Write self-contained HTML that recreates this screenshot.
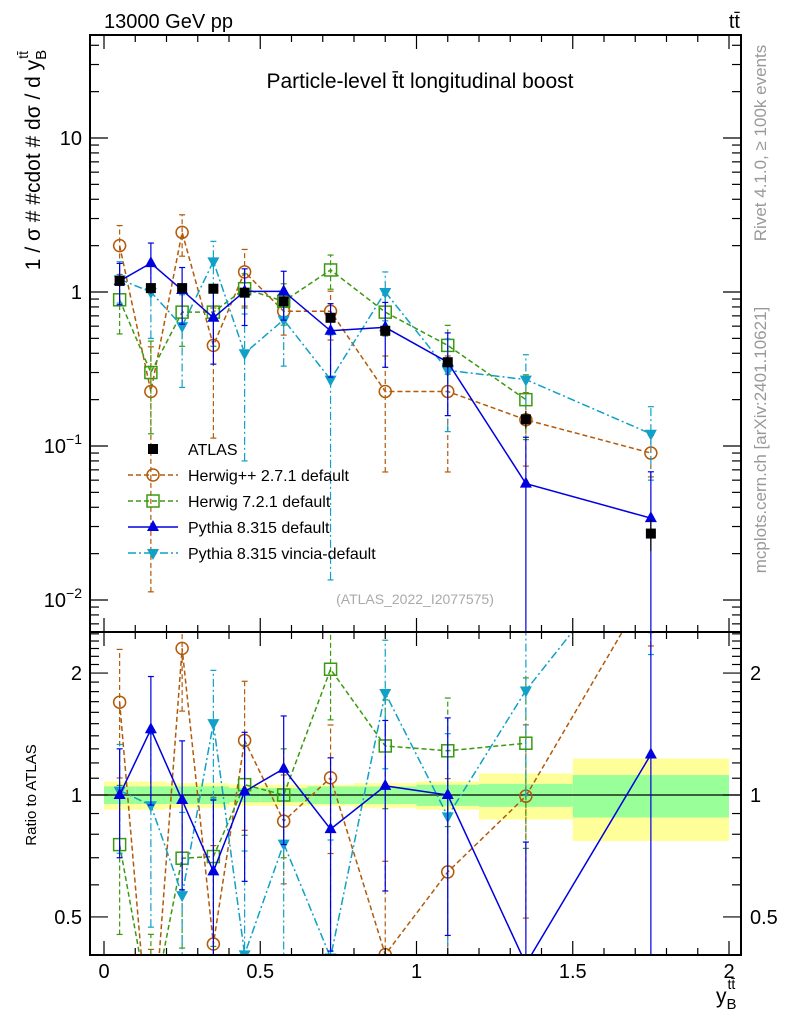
<!DOCTYPE html>
<html><head><meta charset="utf-8"><style>
html,body{margin:0;background:#fff;overflow:hidden;width:786px;height:1024px;}
svg{display:block;font-family:"Liberation Sans",sans-serif;}
</style></head><body>
<svg id="plot" width="786" height="1024" viewBox="0 0 786 1024" xmlns="http://www.w3.org/2000/svg">
<text x="104" y="28" font-size="20">13000 GeV pp</text>
<text x="740" y="28" font-size="20" text-anchor="end">tt̄</text>
<text x="420" y="88" font-size="21" text-anchor="middle">Particle-level t̄t longitudinal boost</text>
<text x="415" y="604" font-size="14" fill="#aaa" text-anchor="middle">(ATLAS_2022_I2077575)</text>
<text transform="translate(766,143) rotate(-90)" font-size="17" fill="#999" text-anchor="middle">Rivet 4.1.0, ≥ 100k events</text>
<text transform="translate(766,440) rotate(-90)" font-size="17" fill="#999" text-anchor="middle">mcplots.cern.ch [arXiv:2401.10621]</text>
<text transform="translate(40,160) rotate(-90)" font-size="21" text-anchor="middle">1 / σ # #cdot # dσ / d y<tspan font-size="15" dy="6">B</tspan><tspan font-size="14" dy="-18" dx="-9">tt̄</tspan></text>
<text transform="translate(36,795) rotate(-90)" font-size="15" text-anchor="middle">Ratio to ATLAS</text>
<text x="716" y="1003" font-size="21">y<tspan font-size="15" dy="6">B</tspan><tspan font-size="14" dy="-20" dx="-9">tt̄</tspan></text>
<g id="g"></g>
</svg>
<script>
const edges=[0,0.1,0.2,0.3,0.4,0.5,0.65,0.8,1.0,1.2,1.5,2.0];
const centers=[0.05,0.15,0.25,0.35,0.45,0.575,0.725,0.9,1.1,1.35,1.75];
const atlas=[1.18,1.06,1.06,1.05,0.99,0.87,0.68,0.56,0.35,0.149,0.027];
const atlasStat=[0.05,0.05,0.05,0.05,0.04,0.04,0.05,0.05,0.06,0.065,0.12];
const atlasTot=[0.08,0.08,0.07,0.07,0.06,0.06,0.06,0.07,0.08,0.13,0.23];
const hpp=[2.0,0.226,2.44,0.45,1.35,0.75,0.75,0.226,0.226,0.148,0.09];
const hppErr=[0.35,0.95,0.3,0.75,0.4,0.3,0.35,0.7,0.7,0.5,0.3];
const h7=[0.89,0.30,0.74,0.74,1.05,0.87,1.39,0.74,0.45,0.20];
const h7Err=[0.4,0.6,0.4,0.4,0.25,0.3,0.25,0.3,0.35,0.45];
const py=[1.18,1.54,1.03,0.68,1.01,1.01,0.56,0.59,0.35,0.057,0.034];
const pyErr=[0.3,0.35,0.4,0.5,0.4,0.35,0.5,0.45,0.55,1.0,1.0];
const vin=[1.21,1.0,0.60,1.58,0.40,0.66,0.27,1.0,0.31,0.27,0.12];
const vinErr=[0.3,0.5,0.6,0.35,0.8,0.5,0.95,0.35,0.6,0.45,0.5];
const NS="http://www.w3.org/2000/svg";
const g=document.getElementById('g');
const X0=90,X1=741,MT=35,MB=632,RB=955;
const xs=v=>104+v*312.5;
const ym=v=>292-154*Math.log10(v);
const yr=v=>795-405*Math.log10(v);
function el(t,a,p){const e=document.createElementNS(NS,t);for(const k in a)e.setAttribute(k,a[k]);(p||g).appendChild(e);return e;}
const defs=el('defs',{});
const c1=el('clipPath',{id:'cm'},defs);el('rect',{x:X0,y:MT,width:X1-X0,height:MB-MT},c1);
const c2=el('clipPath',{id:'cr'},defs);el('rect',{x:X0,y:MB,width:X1-X0,height:RB-MB},c2);
const gm=el('g',{'clip-path':'url(#cm)'});


const gr=el('g',{'clip-path':'url(#cr)'});


for(let i=0;i<centers.length;i++){
 const a=xs(edges[i]),b=xs(edges[i+1]);
 const yb=el('rect',{x:a,y:yr(1+atlasTot[i]),width:b-a,height:yr(1-atlasTot[i])-yr(1+atlasTot[i]),fill:'#ffff99'},gr);
 
 
 const gb=el('rect',{x:a,y:yr(1+atlasStat[i]),width:b-a,height:yr(1-atlasStat[i])-yr(1+atlasStat[i]),fill:'#99ff99'},gr);
 
 
}
el('line',{x1:X0,x2:X1,y1:yr(1),y2:yr(1),stroke:'#000','stroke-width':1.2},gr);
function marker(p,type,x,y,col,name){
 let m;
 if(type==='sq') m=el('rect',{x:x-5,y:y-5,width:10,height:10,fill:col},p);
 else if(type==='osq') m=el('rect',{x:x-6,y:y-6,width:12,height:12,fill:'none',stroke:col,'stroke-width':1.5},p);
 else if(type==='oc') m=el('circle',{cx:x,cy:y,r:6,fill:'none',stroke:col,'stroke-width':1.5},p);
 else if(type==='tu') m=el('polygon',{points:`${x},${y-7} ${x-6},${y+4} ${x+6},${y+4}`,fill:col},p);
 else m=el('polygon',{points:`${x},${y+7} ${x-6},${y-4} ${x+6},${y-4}`,fill:col},p);
 
 
}
function series(vals,errs,col,dash,type,name){
 [[gm,ym,v=>v],[gr,yr,(v,i)=>v/atlas[i]]].forEach(([p,yf,tr])=>{
  let pts=vals.map((v,i)=>[xs(centers[i]),yf(tr(v,i))]);
  const l=el('polyline',{points:pts.map(q=>q.join(',')).join(' '),fill:'none',stroke:col,'stroke-width':1.5,'stroke-dasharray':dash},p);
  
  
  vals.forEach((v,i)=>{
   const r=tr(v,i),x=xs(centers[i]);
   const lo=Math.max(r*(1-errs[i]),1e-4),hi=r*(1+errs[i]);
   const e=el('line',{x1:x,x2:x,y1:yf(lo),y2:yf(hi),stroke:col,'stroke-width':1.2,'stroke-dasharray':dash},p);
   
   
   el('line',{x1:x-3,x2:x+3,y1:yf(hi),y2:yf(hi),stroke:col,'stroke-width':1.2},p);
   el('line',{x1:x-3,x2:x+3,y1:yf(lo),y2:yf(lo),stroke:col,'stroke-width':1.2},p);
   marker(p,type,x,yf(r),col,name+'-marker');
  });
 });
}
series(hpp,hppErr,'#b25a0a','5,3','oc','herwigpp');
series(h7,h7Err,'#3a9a10','5,3','osq','herwig7');
series(vin,vinErr,'#10a0c8','8,3,2,3','td','pythia-vincia');
series(py,pyErr,'#0000e0','','tu','pythia-default');
atlas.forEach((v,i)=>{
 const x=xs(centers[i]);
 const e=el('line',{x1:x,x2:x,y1:ym(v*(1-atlasTot[i])),y2:ym(v*(1+atlasTot[i])),stroke:'#000','stroke-width':1.2},gm);
 
 
 marker(gm,'sq',x,ym(v),'#000','atlas-marker');
});
[[MT,MB],[MB,RB]].forEach(([a,b])=>{const f=el('rect',{x:X0,y:a,width:X1-X0,height:b-a,fill:'none',stroke:'#000','stroke-width':2});
 });
for(let k=0;k<=20;k++){const v=k/10,x=xs(v),L=k%5==0?14:7;
 [[MT,1],[MB,-1],[MB,1],[RB,-1]].forEach(([y,d])=>el('line',{x1:x,x2:x,y1:y,y2:y+d*L,stroke:'#000','stroke-width':1.2}));
}
const xl=['0','0.5','1','1.5','2'];
xl.forEach((t,i)=>{const tx=el('text',{x:xs(i*0.5),y:978,'font-size':20,'text-anchor':'middle'});tx.textContent=t;
 });
for(let d=-3;d<=1;d++)for(let m=1;m<=9;m++){const v=m*Math.pow(10,d),y=ym(v);if(y<MT||y>MB)continue;const L=m==1?18:9;
 el('line',{x1:X0,x2:X0+L,y1:y,y2:y,stroke:'#000','stroke-width':1.2});el('line',{x1:X1,x2:X1-L,y1:y,y2:y,stroke:'#000','stroke-width':1.2});}
const ylab=[[10,'10'],[1,'1']];
ylab.forEach(([v,t])=>{const tx=el('text',{x:82,y:ym(v)+7,'font-size':20,'text-anchor':'end'});tx.textContent=t;
 });
[[0.1,'−1'],[0.01,'−2']].forEach(([v,t])=>{const tx=el('text',{x:82,y:ym(v)+7,'font-size':20,'text-anchor':'end'});tx.innerHTML='10<tspan font-size="14" dy="-9">'+t+'</tspan>';
 });
for(let k=3;k<=25;k++){const v=k/10,y=yr(v);if(y<MB||y>RB)continue;const L=(k==5||k==10||k==20)?18:9;
 el('line',{x1:X0,x2:X0+L,y1:y,y2:y,stroke:'#000','stroke-width':1.2});el('line',{x1:X1,x2:X1-L,y1:y,y2:y,stroke:'#000','stroke-width':1.2});}
[[2,'2'],[1,'1'],[0.5,'0.5']].forEach(([v,t])=>{[[82,'end'],[750,'start']].forEach(([x,a])=>{const tx=el('text',{x:x,y:yr(v)+7,'font-size':20,'text-anchor':a});tx.textContent=t;
 });});
const leg=[['sq','#000','','ATLAS'],['oc','#b25a0a','5,3','Herwig++ 2.7.1 default'],['osq','#3a9a10','5,3','Herwig 7.2.1 default'],['tu','#0000e0','','Pythia 8.315 default'],['td','#10a0c8','8,3,2,3','Pythia 8.315 vincia-default']];
leg.forEach(([t,c,d,lab],i)=>{const y=449+i*26;const lg=el('g',{});
 
 if(i>0)el('line',{x1:128,x2:178,y1:y,y2:y,stroke:c,'stroke-width':1.5,'stroke-dasharray':d},lg);
 marker(lg,t,153,y,c,'legend-marker');
 const tx=el('text',{x:188,y:y+6,'font-size':16},lg);tx.textContent=lab;});
</script>
</body></html>
